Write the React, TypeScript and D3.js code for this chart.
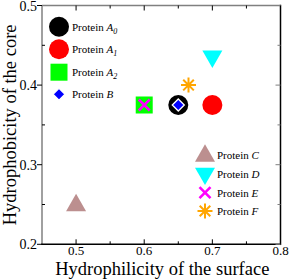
import React from "react";
import * as d3 from "d3";

const proteinBases = ["A", "A", "A", "B", "C", "D", "E", "F"];
const proteinSubs = ["0", "1", "2", "", "", "", "", ""];
const hydrophilicity = [0.65, 0.7, 0.6, 0.65, 0.5, 0.7, 0.6, 0.665];
const hydrophobicity = [0.375, 0.375, 0.375, 0.375, 0.25, 0.435, 0.375, 0.4];
const colors = ["#000000", "#ff0000", "#00ff00", "#0000ff", "#bc8f8f", "#00ffff", "#ff00ff", "#ffa500"];
const shapes = ["circle", "circle", "square", "diamond", "triUp", "triDown", "x", "star"];

const xMajor = [0.5, 0.6, 0.7, 0.8];
const xMinor = [0.55, 0.65, 0.75];
const yMajor = [0.2, 0.3, 0.4, 0.5];
const yMinor = [0.25, 0.35, 0.45];

const W = 290, H = 279;
const L = 42, R = 280.5, T = 5.5, B = 244.3;

function Marker({ shape, color, x, y }: { shape: string; color: string; x: number; y: number }) {
  const t = `translate(${x},${y})`;
  if (shape === "circle") {
    return <path transform={t} d={d3.symbol(d3.symbolCircle, Math.PI * 100)()!} fill={color} />;
  }
  if (shape === "square") {
    return <rect x={x - 8.5} y={y - 8.5} width={17} height={17} fill={color} />;
  }
  if (shape === "diamond") {
    const h = 6;
    return <path transform={t} d={`M0,${-h}L${h},0L0,${h}L${-h},0Z`} fill={color} stroke="#fff" strokeWidth={1.3} />;
  }
  if (shape === "triUp" || shape === "triDown") {
    const w = 20, hh = 17.3;
    const d = shape === "triUp"
      ? `M0,${-hh / 2 - 2}L${w / 2},${hh / 2 - 2}L${-w / 2},${hh / 2 - 2}Z`
      : `M0,${hh / 2 + 2}L${w / 2},${-hh / 2 + 2}L${-w / 2},${-hh / 2 + 2}Z`;
    return <path transform={t} d={d} fill={color} />;
  }
  if (shape === "x") {
    const s = 5.5;
    return <path transform={t} d={`M${-s},${-s}L${s},${s}M${-s},${s}L${s},${-s}`} stroke={color} strokeWidth={2.6} />;
  }
  const s = 7.5, dd = 5.3;
  return (
    <path
      transform={t}
      d={`M0,${-s}L0,${s}M${-s},0L${s},0M${-dd},${-dd}L${dd},${dd}M${-dd},${dd}L${dd},${-dd}`}
      stroke={color}
      strokeWidth={2}
    />
  );
}

export default function App() {
  const x = d3.scaleLinear().domain([0.45, 0.8]).range([L, R]);
  const y = d3.scaleLinear().domain([0.2, 0.5]).range([B, T]);
  const font = "Liberation Serif, Times New Roman, serif";

  const legend1 = [0, 1, 2, 3];
  const legend1Y = [26.7, 49.2, 72.2, 94.3];
  const legend2 = [4, 5, 6, 7];
  const legend2Y = [155, 174.3, 192.7, 211];

  const order = [0, 1, 2, 3, 4, 5, 6, 7];

  return (
    <svg width={W} height={H} style={{ position: "absolute", left: 0, top: 0, background: "#fff" }}>
      <rect x={0} y={0} width={W} height={H} fill="#fff" />
      {order.map((i) => (
        <Marker key={i} shape={shapes[i]} color={colors[i]} x={x(hydrophilicity[i])} y={y(hydrophobicity[i])} />
      ))}
      {legend1.map((i, k) => (
        <g key={"l1" + i}>
          <Marker shape={shapes[i]} color={colors[i]} x={59} y={legend1Y[k]} />
          <text x={72} y={legend1Y[k] + 3.8} fontFamily={font} fontSize={11} fill="#000">
            Protein <tspan fontStyle="italic">{proteinBases[i]}</tspan>
            {proteinSubs[i] && (
              <tspan fontStyle="italic" fontSize={8} dy={3}>{proteinSubs[i]}</tspan>
            )}
          </text>
        </g>
      ))}
      {legend2.map((i, k) => (
        <g key={"l2" + i}>
          <Marker shape={shapes[i]} color={colors[i]} x={205} y={legend2Y[k]} />
          <text x={217} y={legend2Y[k] + 3.8} fontFamily={font} fontSize={11} fill="#000">
            Protein <tspan fontStyle="italic">{proteinBases[i]}</tspan>
          </text>
        </g>
      ))}
      <line x1={L} y1={T} x2={R} y2={T} stroke="#808080" strokeWidth={1.5} />
      <line x1={L} y1={T} x2={L} y2={B} stroke="#808080" strokeWidth={1.5} />
      <line x1={R} y1={T - 0.75} x2={R} y2={B + 0.75} stroke="#000" strokeWidth={1.5} />
      <line x1={L - 0.75} y1={B} x2={R} y2={B} stroke="#000" strokeWidth={1.5} />
      {xMajor.map((v) => (
        <g key={"xm" + v}>
          <line x1={x(v)} x2={x(v)} y1={B} y2={B - 5} stroke="#000" strokeWidth={1} />
          <line x1={x(v)} x2={x(v)} y1={T} y2={T + 5} stroke="#000" strokeWidth={1} />
          <text x={x(v)} y={254.5} textAnchor="middle" fontFamily={font} fontSize={13} fill="#000">
            {v.toFixed(1)}
          </text>
        </g>
      ))}
      {xMinor.map((v) => (
        <g key={"xn" + v}>
          <line x1={x(v)} x2={x(v)} y1={B} y2={B - 3} stroke="#000" strokeWidth={1} />
          <line x1={x(v)} x2={x(v)} y1={T} y2={T + 3} stroke="#000" strokeWidth={1} />
        </g>
      ))}
      {yMajor.map((v) => (
        <g key={"ym" + v}>
          <line x1={L} x2={L - 5} y1={y(v)} y2={y(v)} stroke="#000" strokeWidth={1} />
          <line x1={R} x2={R - 5} y1={y(v)} y2={y(v)} stroke="#808080" strokeWidth={1} />
          <text x={37} y={y(v) + 5} textAnchor="end" fontFamily={font} fontSize={14} fill="#000">
            {v.toFixed(1)}
          </text>
        </g>
      ))}
      {yMinor.map((v) => (
        <g key={"yn" + v}>
          <line x1={L} x2={L + 3} y1={y(v)} y2={y(v)} stroke="#000" strokeWidth={1} />
          <line x1={R} x2={R - 3} y1={y(v)} y2={y(v)} stroke="#808080" strokeWidth={1} />
        </g>
      ))}
      <text x={(L + R) / 2 + 1} y={274.5} textAnchor="middle" fontFamily={font} fontSize={18.5} fill="#000">
        Hydrophilicity of the surface
      </text>
      <text
        transform={`translate(16,${(T + B) / 2}) rotate(-90)`}
        textAnchor="middle"
        fontFamily={font}
        fontSize={18.5}
        fill="#000"
      >
        Hydrophobicity of the core
      </text>
    </svg>
  );
}
